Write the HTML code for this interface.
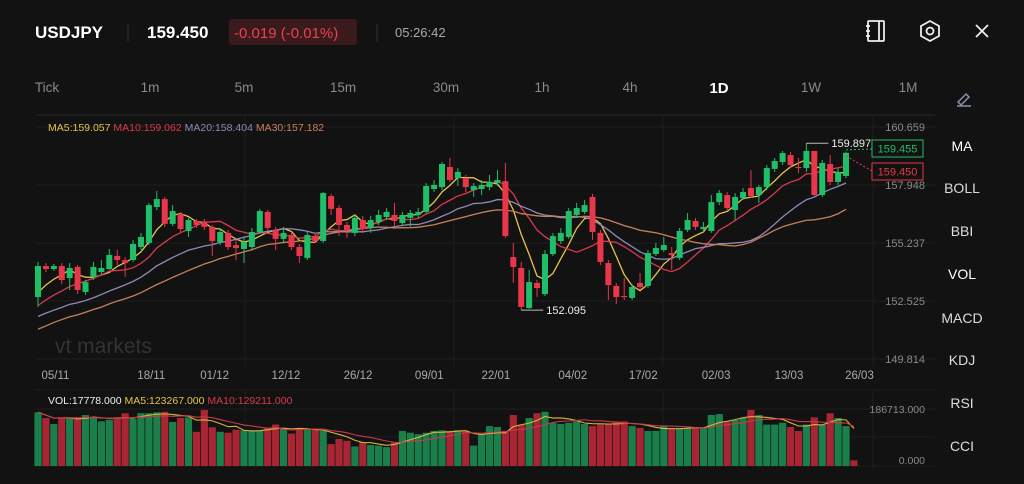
<!DOCTYPE html>
<html><head><meta charset="utf-8">
<style>
html,body{margin:0;padding:0;background:#121212;width:1024px;height:484px;overflow:hidden;font-family:"Liberation Sans",sans-serif;}
svg{display:block}
</style></head>
<body>
<svg id="c" width="1024" height="484" viewBox="0 0 1024 484" xmlns="http://www.w3.org/2000/svg">
<rect width="1024" height="484" fill="#121212"/>
<g font-family="Liberation Sans, sans-serif">
<text x="35" y="38" fill="#fff" font-size="17" font-weight="bold">USDJPY</text>
<line x1="128" y1="24" x2="128" y2="42" stroke="#333"/>
<text x="147" y="38" fill="#fff" font-size="17" font-weight="bold">159.450</text>
<rect x="229" y="19" width="128" height="26" rx="3" fill="#3a1a1d"/>
<text x="234" y="38" fill="#e8424f" font-size="15">-0.019 (-0.01%)</text>
<line x1="377" y1="24" x2="377" y2="42" stroke="#333"/>
<text x="395" y="37" fill="#aaa" font-size="13">05:26:42</text>
<g stroke="#eee" stroke-width="1.8" fill="none"><rect x="868" y="21" width="16" height="20" rx="1"/><line x1="879" y1="21" x2="879" y2="41"/><line x1="866" y1="26" x2="870" y2="26"/><line x1="866" y1="31" x2="870" y2="31"/><line x1="866" y1="36" x2="870" y2="36"/></g>
<g stroke="#eee" stroke-width="1.8" fill="none"><polygon points="930,21 939,26 939,36 930,41 921,36 921,26"/><circle cx="930" cy="31" r="3.5"/></g>
<g stroke="#eee" stroke-width="1.8"><line x1="976" y1="25" x2="988" y2="37"/><line x1="988" y1="25" x2="976" y2="37"/></g>
</g>
<g font-size="13.5" fill="#8a8a8a" text-anchor="middle">
<text x="47" y="92">Tick</text>
<text x="150" y="92">1m</text>
<text x="244" y="92">5m</text>
<text x="343" y="92">15m</text>
<text x="446" y="92">30m</text>
<text x="542" y="92">1h</text>
<text x="630" y="92">4h</text>
<text x="719" y="93" fill="#fff" font-size="15" font-weight="bold">1D</text>
<text x="811" y="92">1W</text>
<text x="908" y="92">1M</text>
</g>
<g stroke="#8a8fb0" stroke-width="1.5" fill="none"><path d="M958 102 L966 94 L969 97 L961 105 Z"/><line x1="957" y1="106" x2="971" y2="106"/></g>
<g font-size="14" fill="#ddd" text-anchor="middle">
<text x="962" y="151" fill="#fff">MA</text>
<text x="962" y="193">BOLL</text>
<text x="962" y="236">BBI</text>
<text x="962" y="279" fill="#fff">VOL</text>
<text x="962" y="323">MACD</text>
<text x="962" y="365">KDJ</text>
<text x="962" y="408">RSI</text>
<text x="962" y="451">CCI</text>
</g>
<g id="grid"></g>
<text x="55" y="353" fill="#333" font-size="21">vt markets</text>
<g id="marks"></g>
<g font-size="10.5">
<text x="48" y="131"><tspan fill="#e6c34a">MA5:159.057 </tspan><tspan fill="#d8394f">MA10:159.062 </tspan><tspan fill="#8e8ab8">MA20:158.404 </tspan><tspan fill="#c8805c">MA30:157.182</tspan></text>
</g>
<g font-size="10.5">
<text x="48" y="404"><tspan fill="#eee">VOL:17778.000 </tspan><tspan fill="#e6c34a">MA5:123267.000 </tspan><tspan fill="#d8394f">MA10:129211.000</tspan></text>
</g>
</svg>
<script>
const hist=[149.6,149.2,149.5,150.1,150.4,149.8,150.3,150.6,150.2,150.5,151.0,151.4,150.9,151.2,151.6,151.3,151.5,151.1,151.4,151.6,151.4,151.9,151.6,152.0,151.7,152.2,152.8,152.5,152.9];
const opens=[152.71,154.16,154.02,154.16,153.60,154.12,152.95,153.65,153.88,154.02,154.63,154.44,154.44,155.05,155.24,156.92,157.29,156.13,156.59,155.80,156.27,156.22,155.99,155.28,155.71,155.14,154.96,155.05,155.75,156.69,155.85,155.43,155.61,155.05,154.54,155.56,155.33,157.43,156.87,156.08,155.71,156.31,155.94,156.22,156.45,156.55,156.17,156.41,156.55,156.69,157.76,157.85,158.79,158.27,158.27,157.71,157.76,157.85,158.04,158.13,154.58,154.07,152.20,153.37,152.85,154.72,155.33,155.52,156.55,156.69,157.39,155.71,154.30,153.23,152.76,152.67,153.37,153.23,154.72,154.91,154.77,154.54,155.85,156.27,155.89,155.80,157.15,157.48,156.78,157.34,157.81,157.48,157.85,158.70,159.02,159.35,158.79,158.74,159.54,157.48,158.93,158.09,158.37];
const closes=[154.16,154.02,154.16,153.51,154.07,153.04,153.41,154.12,154.07,154.68,154.44,154.30,155.19,155.52,157.01,157.29,156.13,156.73,155.89,156.31,156.08,155.99,155.33,155.75,155.05,155.00,155.28,155.75,156.73,155.94,155.43,155.71,155.05,154.63,155.61,155.33,157.57,156.83,156.08,155.85,156.41,155.89,156.31,156.55,156.69,156.27,156.55,156.64,156.69,157.90,157.95,158.93,158.18,158.56,157.85,157.90,157.95,158.09,158.18,155.56,154.12,152.25,153.41,153.13,154.72,155.56,155.71,156.73,156.87,157.01,155.75,154.35,153.27,152.71,152.71,153.18,153.18,154.77,155.00,155.14,154.68,155.80,156.31,155.99,155.99,157.15,157.57,156.87,157.39,157.62,157.43,157.85,158.74,159.07,159.44,158.88,158.74,159.54,157.48,158.98,158.09,158.56,159.45];
const highs=[154.35,154.30,154.26,154.30,154.30,154.21,153.51,154.35,154.44,154.96,154.91,154.58,155.38,155.71,157.11,157.67,157.39,157.01,156.69,156.41,156.36,156.36,156.08,155.94,155.85,155.38,155.47,155.94,156.83,156.78,155.99,155.99,155.75,155.19,155.75,155.71,157.62,157.53,157.01,156.22,156.55,156.50,156.50,156.78,156.87,157.11,156.69,156.78,156.87,158.04,158.18,159.02,159.21,158.74,158.42,158.04,158.18,158.42,158.65,158.98,155.24,154.35,153.98,153.51,154.91,155.71,155.94,156.87,157.11,157.25,157.53,155.85,154.44,153.37,153.60,153.32,153.83,154.91,155.24,155.52,155.05,155.94,156.64,156.41,156.22,157.48,157.71,157.62,157.57,157.81,158.65,157.95,158.88,159.21,159.54,159.49,159.21,159.90,159.54,159.12,159.35,158.74,159.50];
const lows=[152.25,153.88,153.93,153.32,153.04,152.85,152.81,153.51,153.74,153.98,154.21,153.65,154.35,154.91,155.14,156.78,155.99,156.03,155.75,155.52,155.94,155.85,154.63,155.14,154.91,154.44,154.30,154.91,155.66,155.80,154.91,155.28,154.91,154.30,154.44,155.24,155.24,156.55,155.56,155.47,155.56,155.71,155.71,156.08,156.31,155.99,156.03,155.99,156.41,156.59,157.62,157.71,158.09,157.90,157.62,157.39,157.48,157.71,157.90,155.47,153.37,152.10,152.15,152.71,152.76,154.63,155.19,155.43,156.41,156.59,155.38,154.21,152.57,152.39,152.57,152.57,153.04,153.13,154.63,154.82,153.98,154.44,155.75,155.85,155.75,155.71,157.01,156.78,156.31,157.25,157.34,157.11,157.71,158.56,158.88,158.74,158.51,158.56,157.43,157.39,157.95,157.95,158.27];
const volumes=[179,160,140,162,162,160,170,162,149,154,162,176,157,176,176,179,181,147,160,162,114,187,129,114,111,121,119,119,119,127,138,127,108,127,122,124,117,73,90,84,65,79,70,68,63,79,117,111,106,111,117,119,117,119,117,68,106,133,130,117,170,138,160,176,181,144,140,144,149,140,133,138,140,149,149,133,127,117,117,133,127,127,127,127,127,170,173,149,154,160,187,170,138,138,144,130,117,138,162,138,176,160,133,19];
const priceTicks=["160.659","157.948","155.237","152.525","149.814"];
const priceTickValues=[160.659,157.948,155.237,152.525,149.814];
const dateLabels=["05/11","18/11","01/12","12/12","26/12","09/01","22/01","04/02","17/02","02/03","13/03","26/03"];
const dateIndex=[2.2,14.3,22.3,31.3,40.4,49.4,57.8,67.5,76.4,85.6,94.8,103.7];
const maPeriods=[5,10,20,30];
const maColors=["#e6c34a","#d8394f","#8e8ab8","#c8805c"];
const volMax=186.713;

const NS="http://www.w3.org/2000/svg";
const marks=document.getElementById('marks');
const grid=document.getElementById('grid');
const GREEN="#1fbf6a",RED="#e8364a",VGREEN="#1b7f4c",VRED="#a82633";
const xOf=i=>38+i*(808/(closes.length-1));
const yOf=p=>127+(160.659-p)/2.711*58;
const vBase=466,vTop=410;
const vyOf=v=>vBase-v/volMax*(vBase-vTop);
function mk(tag,attrs,parent){const e=document.createElementNS(NS,tag);for(const k in attrs)e.setAttribute(k,attrs[k]);(parent||marks).appendChild(e);return e;}

[115,127,185,243,301,359].forEach(y=>{const l=mk('line',{x1:35,x2:935,y1:y,y2:y,stroke:y===115?'#262626':'#1d1d1d'},grid);

});
[390,409,437,466].forEach(y=>{const l=mk('line',{x1:35,x2:935,y1:y,y2:y,stroke:'#1d1d1d'},grid);

});
[245,454,663,873].forEach(x=>{const l=mk('line',{x1:x,x2:x,y1:115,y2:366,stroke:'#1d1d1d'},grid);


const l2=mk('line',{x1:x,x2:x,y1:390,y2:468,stroke:'#1d1d1d'},grid);

});

priceTicks.forEach((t,i)=>{const e=mk('text',{x:925,y:yOf(priceTickValues[i])+4,fill:'#8a8a8a','font-size':11,'text-anchor':'end'});e.textContent=t;

});
dateLabels.forEach((t,i)=>{const e=mk('text',{x:xOf(dateIndex[i]),y:379,fill:'#aaa','font-size':11.5,'text-anchor':'middle'});e.textContent=t;

});
[["186713.000",vTop+3],["0.000",vBase-2]].forEach(a=>{const e=mk('text',{x:925,y:a[1],fill:'#8a8a8a','font-size':10.5,'text-anchor':'end'});e.textContent=a[0];

});

volumes.forEach((v,i)=>{const up=closes[i]>=opens[i];const y=vyOf(v);
const r=mk('rect',{x:xOf(i)-3.6,y:y,width:7.2,height:vBase-y,fill:up?VGREEN:VRED});

});
function volMA(n){return volumes.map((v,i)=>{const s=volumes.slice(Math.max(0,i-n+1),i+1);return s.reduce((a,b)=>a+b,0)/s.length;});}
[[5,'#d6b440'],[10,'#c83a48']].forEach(a=>{const m=volMA(a[0]);
const p=mk('polyline',{points:m.map((v,i)=>xOf(i)+','+vyOf(v)).join(' '),fill:'none',stroke:a[1],'stroke-width':1.1});

});

const all=hist.concat(closes);
maPeriods.forEach((n,k)=>{const pts=closes.map((c,i)=>{const j=i+hist.length;const s=all.slice(j-n+1,j+1);return xOf(i)+','+yOf(s.reduce((a,b)=>a+b,0)/s.length);});
const p=mk('polyline',{points:pts.join(' '),fill:'none',stroke:maColors[k],'stroke-width':1.3});

});

closes.forEach((c,i)=>{const o=opens[i];const up=c>=o;const col=up?GREEN:RED;const x=xOf(i);
const w=mk('line',{x1:x,x2:x,y1:yOf(highs[i]),y2:yOf(lows[i]),stroke:col,'stroke-width':1});


const top=yOf(Math.max(o,c)),bot=yOf(Math.min(o,c));
const b=mk('rect',{x:x-3,y:top,width:6,height:Math.max(1,bot-top),fill:col});

});

let hi=0,lo=0;highs.forEach((h,i)=>{if(h>highs[hi])hi=i;});lows.forEach((l,i)=>{if(l<lows[lo])lo=i;});
const hy=yOf(highs[hi]),ly=yOf(lows[lo]);
const l1=mk('line',{x1:xOf(hi),x2:xOf(hi)+22,y1:hy,y2:hy,stroke:'#bbb'});


const t1=mk('text',{x:xOf(hi)+25,y:hy+4,fill:'#eee','font-size':11});t1.textContent=highs[hi].toFixed(3).replace('159.900','159.897');


const l2=mk('line',{x1:xOf(lo),x2:xOf(lo)+22,y1:ly,y2:ly,stroke:'#bbb'});


const t2=mk('text',{x:xOf(lo)+25,y:ly+4,fill:'#eee','font-size':11});t2.textContent=lows[lo].toFixed(3).replace('152.100','152.095');



const lx=xOf(closes.length-1);
const d1=mk('line',{x1:lx,x2:872,y1:yOf(closes[closes.length-1])-3,y2:149,stroke:'#1fbf6a','stroke-dasharray':'2,2'});


const d2=mk('line',{x1:lx,x2:872,y1:yOf(closes[closes.length-1])+3,y2:171,stroke:'#e8364a','stroke-dasharray':'2,2'});


const g1=mk('rect',{x:872,y:140,width:51,height:17,fill:'#121212',stroke:'#1fbf6a'});


const gt=mk('text',{x:897.5,y:152.5,fill:'#1fbf6a','font-size':11,'text-anchor':'middle'});gt.textContent='159.455';


const r1=mk('rect',{x:872,y:163,width:51,height:17,fill:'#121212',stroke:'#e8364a'});


const rt=mk('text',{x:897.5,y:175.5,fill:'#e8364a','font-size':11,'text-anchor':'middle'});rt.textContent='159.450';


</script>
</body></html>
